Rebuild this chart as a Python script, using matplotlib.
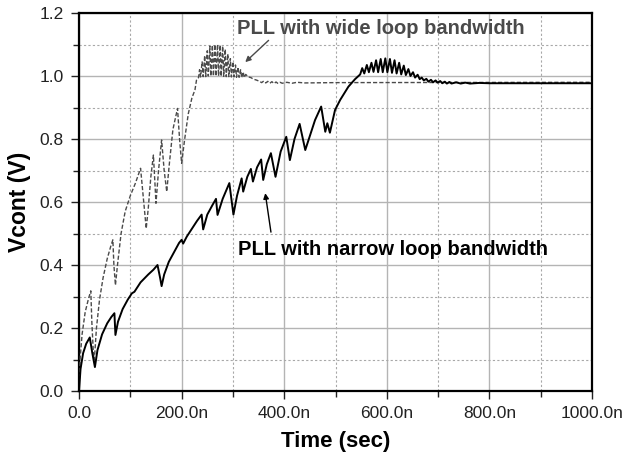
import numpy as np
import matplotlib
matplotlib.use('Agg')
import matplotlib.pyplot as plt
from matplotlib.ticker import MultipleLocator

plt.rcParams['font.family'] = ['Liberation Sans', 'DejaVu Sans']

# Time (ns) and control voltage (V)
# PLL with narrow loop bandwidth
t_narrow = [0, 3, 8, 14, 21, 26, 31, 36, 45, 55, 63, 69, 71, 76, 85, 95, 103, 108, 110,
            120, 135, 145, 153, 158, 161, 166, 175, 185, 195, 200, 203, 210, 220, 230,
            239, 242, 250, 260, 267, 270, 280, 293, 301, 308, 317, 320, 328, 335, 339,
            347, 355, 359, 366, 374, 383, 393, 404, 411, 420, 430, 441, 450, 460, 472,
            480, 484, 489, 499, 509, 525, 538, 548,
            552, 556, 561, 565, 570, 574, 579, 583, 588, 592, 597, 601, 606, 610,
            615, 619, 624, 628, 633, 637, 642, 646, 651, 655, 660, 664,
            668, 672, 677, 681, 686, 690, 695, 699, 704, 708, 713, 717, 722, 726,
            735, 744, 753, 762, 780, 800, 1000]
v_narrow = [0.0, 0.07, 0.12, 0.15, 0.17, 0.12, 0.076, 0.13, 0.18, 0.215, 0.235, 0.247,
            0.178, 0.22, 0.26, 0.29, 0.31, 0.315, 0.32, 0.345, 0.37, 0.385, 0.40, 0.36,
            0.333, 0.37, 0.41, 0.44, 0.47, 0.48, 0.468, 0.49, 0.515, 0.54, 0.56, 0.513,
            0.56, 0.59, 0.61, 0.559, 0.61, 0.66, 0.56, 0.62, 0.675, 0.633, 0.68, 0.705,
            0.665, 0.71, 0.735, 0.67, 0.72, 0.755, 0.68, 0.76, 0.807, 0.733, 0.80, 0.848,
            0.765, 0.81, 0.86, 0.903, 0.823, 0.85, 0.82, 0.892, 0.924, 0.966, 0.99, 1.005,
            1.025, 1.008, 1.035, 1.012, 1.042, 1.013, 1.05, 1.012, 1.054, 1.012, 1.056,
            1.012, 1.054, 1.01, 1.05, 1.008, 1.042, 1.005, 1.033, 1.003, 1.022, 1.0,
            1.012, 0.995, 1.004, 0.99,
            0.995, 0.986, 0.991, 0.982, 0.988, 0.980, 0.986, 0.979, 0.984, 0.977,
            0.982, 0.976, 0.981, 0.976, 0.980, 0.976, 0.979, 0.976, 0.978, 0.977, 0.977]

# PLL with wide loop bandwidth
t_wide = [0, 2, 6, 12, 18, 23, 25, 28, 30, 34, 40, 47, 55, 62, 66, 68, 71, 75, 82, 90,
          100, 110, 120, 125, 131, 135, 140, 145, 148, 150, 155, 161, 166, 171, 176,
          183, 192, 196, 200, 206, 213, 220, 226, 229, 233,
          235, 237, 240, 242, 245, 247, 250, 252, 255, 257, 260, 262, 265, 267, 270,
          272, 275, 277, 280, 282, 285, 287, 290, 292, 295, 297, 300, 302, 305, 307,
          310, 312, 315, 317, 320, 322, 325, 330, 335, 340, 346,
          352, 356, 360, 364, 368, 372, 376, 380, 384, 388, 392, 396, 405, 415, 425,
          440, 500, 1000]
v_wide = [0.0, 0.10, 0.18, 0.25, 0.29, 0.318, 0.22, 0.12, 0.10, 0.20, 0.29, 0.36, 0.42,
          0.46, 0.48, 0.40, 0.336, 0.40, 0.50, 0.57, 0.62, 0.66, 0.707, 0.62, 0.516,
          0.58, 0.68, 0.749, 0.66, 0.596, 0.70, 0.797, 0.70, 0.633, 0.72, 0.83, 0.897,
          0.80, 0.723, 0.80, 0.88, 0.93, 0.956, 0.987, 0.995,
          1.02, 0.997, 1.045, 0.998, 1.065, 0.998, 1.08, 1.0, 1.095, 1.0, 1.098, 1.0,
          1.10, 1.0, 1.10, 1.0, 1.098, 0.999, 1.095, 0.999, 1.085, 0.998, 1.07, 0.998,
          1.055, 0.997, 1.045, 0.997, 1.035, 0.996, 1.028, 0.996, 1.02, 0.995, 1.013,
          0.995, 1.005, 0.997, 0.995, 0.99, 0.987,
          0.983, 0.979, 0.984, 0.978, 0.983, 0.977, 0.982, 0.976, 0.981, 0.976, 0.980,
          0.977, 0.980, 0.977, 0.980, 0.978, 0.979, 0.980]

x_ticks = [0, 200, 400, 600, 800, 1000]
x_labels = ['0.0', '200.0n', '400.0n', '600.0n', '800.0n', '1000.0n']
y_ticks = [0.0, 0.2, 0.4, 0.6, 0.8, 1.0, 1.2]
y_labels = ['0.0', '0.2', '0.4', '0.6', '0.8', '1.0', '1.2']

fig = plt.figure(figsize=(6.28, 4.61), dpi=100)
ax = fig.add_axes([0.1258, 0.1518, 0.817, 0.82])

ax.plot(t_wide, v_wide, color='#4a4a4a', lw=1.0, linestyle=(0, (3, 1.5)), zorder=3)
ax.plot(t_narrow, v_narrow, color='black', lw=1.4, zorder=4)

ax.set_xlim(0, 1000)
ax.set_ylim(0, 1.2)
ax.set_xticks(x_ticks)
ax.set_xticklabels(x_labels)
ax.set_yticks(y_ticks)
ax.set_yticklabels(y_labels)
ax.xaxis.set_minor_locator(MultipleLocator(100))
ax.yaxis.set_minor_locator(MultipleLocator(0.1))

ax.grid(which='major', color='#b4b4b4', lw=1.0, linestyle='-')
ax.grid(which='minor', color='#a8a8a8', lw=0.8, linestyle=(0, (2, 2)))
ax.set_axisbelow(True)

ax.tick_params(which='both', direction='out', labelsize=12.5, colors='#222222', pad=5)
ax.tick_params(which='major', length=6, width=1.0)
ax.tick_params(which='minor', length=4, width=1.0)
for s in ax.spines.values():
    s.set_linewidth(1.6)
    s.set_color('black')

ax.set_xlabel('Time (sec)', fontsize=16, fontweight='bold', labelpad=7)
ax.set_ylabel('Vcont (V)', fontsize=16.5, fontweight='bold', labelpad=6)

ax.annotate('PLL with wide loop bandwidth', xy=(324, 1.044), xytext=(308, 1.152),
            fontsize=14.5, fontweight='bold', color='#4a4a4a', va='center', ha='left',
            arrowprops=dict(arrowstyle='-|>', color='#4a4a4a', lw=1.0,
                            shrinkA=0, shrinkB=0, mutation_scale=8,
                            relpos=(0.12, 0.0)))
ax.annotate('PLL with narrow loop bandwidth', xy=(363, 0.628), xytext=(310, 0.448),
            fontsize=14.5, fontweight='bold', color='black', va='center', ha='left',
            arrowprops=dict(arrowstyle='-|>', color='black', lw=1.0,
                            shrinkA=4, shrinkB=0, mutation_scale=8,
                            relpos=(0.11, 1.0)))

fig.savefig('out.png', dpi=100)
